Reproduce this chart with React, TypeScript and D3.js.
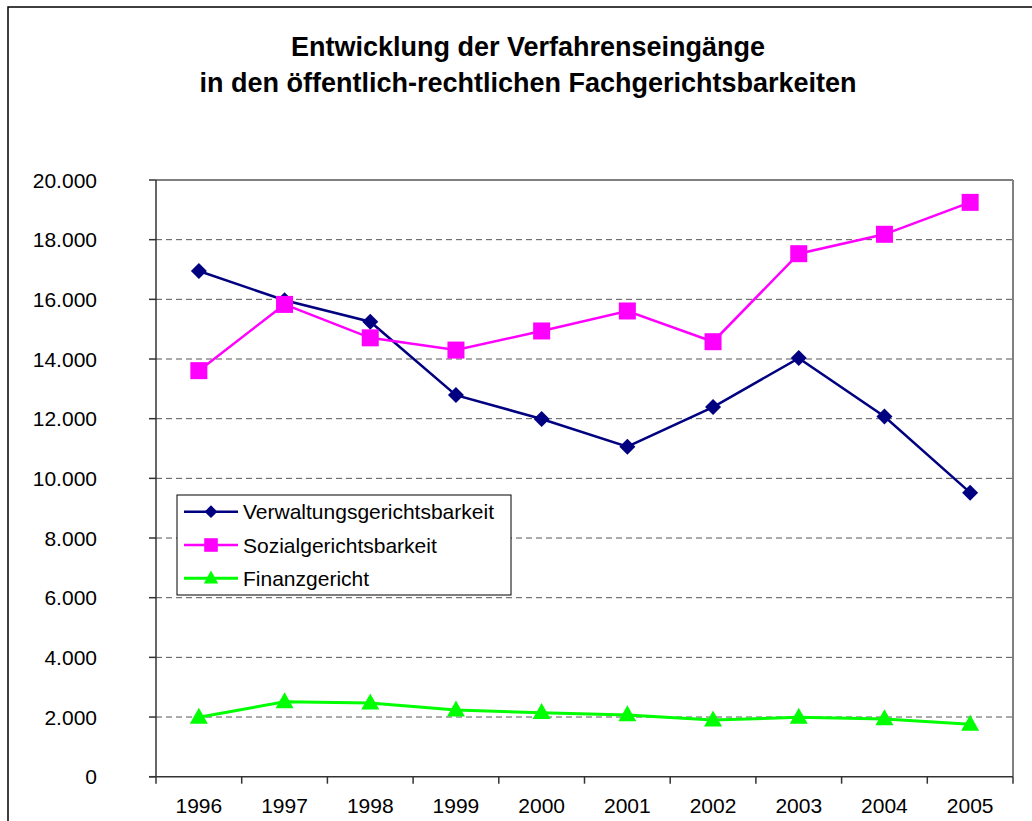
import React from 'react';
import * as d3 from 'd3';

const years = ['1996', '1997', '1998', '1999', '2000', '2001', '2002', '2003', '2004', '2005'];
const verwaltung = [16950, 15970, 15250, 12790, 11990, 11060, 12390, 14030, 12070, 9520];
const sozial = [13610, 15830, 14710, 14300, 14940, 15610, 14580, 17530, 18180, 19250];
const finanz = [1990, 2510, 2470, 2235, 2145, 2070, 1900, 1990, 1935, 1755];
const yTicks = [0, 2000, 4000, 6000, 8000, 10000, 12000, 14000, 16000, 18000, 20000];

const titleLines = ['Entwicklung der Verfahrenseingänge', 'in den öffentlich-rechtlichen Fachgerichtsbarkeiten'];

type Shape = 'diamond' | 'square' | 'triangle';
const series: { name: string; values: number[]; color: string; shape: Shape }[] = [
  { name: 'Verwaltungsgerichtsbarkeit', values: verwaltung, color: '#000080', shape: 'diamond' },
  { name: 'Sozialgerichtsbarkeit', values: sozial, color: '#FF00FF', shape: 'square' },
  { name: 'Finanzgericht', values: finanz, color: '#00FF00', shape: 'triangle' },
];

const W = 1032;
const H = 821;
const M = { left: 156, right: 1013, top: 180, bottom: 776.7 };
const FONT = '"Liberation Sans", Arial, Helvetica, sans-serif';

// german thousands separator
const fmt = (v: number) => (v === 0 ? '0' : d3.format(',')(v).replace(/,/g, '.'));

function Marker({ shape, x, y, color, scale = 1 }: { shape: Shape; x: number; y: number; color: string; scale?: number }) {
  if (shape === 'diamond') {
    const r = 8 * scale;
    return <path d={`M${x},${y - r}L${x + r},${y}L${x},${y + r}L${x - r},${y}Z`} fill={color} />;
  }
  if (shape === 'square') {
    const s = 17 * scale;
    return <rect x={x - s / 2} y={y - s / 2} width={s} height={s} fill={color} />;
  }
  const w = 18 * scale;
  const h = 16 * scale;
  return <path d={`M${x},${y - h * 0.6}L${x + w / 2},${y + h * 0.4}L${x - w / 2},${y + h * 0.4}Z`} fill={color} />;
}

export default function App() {
  const x = d3.scaleBand<string>().domain(years).range([M.left, M.right]);
  const y = d3.scaleLinear().domain([0, 20000]).range([M.bottom, M.top]);
  const cx = (yr: string) => (x(yr) ?? 0) + x.bandwidth() / 2;

  const line = d3.line<number>()
    .x((_, i) => cx(years[i]))
    .y(d => y(d));

  const legend = { x: 177, y: 495, w: 334, h: 100, row: 33.3 };
  const boundaries = [...years.map(yr => x(yr) ?? 0), M.right];

  return (
    <svg width={W} height={H} style={{ position: 'absolute', left: 0, top: 0, background: '#fff' }} fontFamily={FONT}>
      <rect x={8} y={7} width={W + 10} height={H + 10} fill="#fff" stroke="#000" strokeWidth={1.5} />

      {titleLines.map((t, i) => (
        <text key={i} x={528} y={56 + i * 36} textAnchor="middle" fontSize={27} fontWeight="bold" fill="#000">{t}</text>
      ))}

      {/* gridlines */}
      {yTicks.filter(t => t > 0 && t < 20000).map(t => (
        <line key={t} x1={M.left} x2={M.right} y1={y(t)} y2={y(t)} stroke="#555" strokeWidth={1} strokeDasharray="6,4" />
      ))}

      {/* frame */}
      <line x1={M.left} x2={M.right} y1={M.top} y2={M.top} stroke="#808080" strokeWidth={2} />
      <line x1={M.right} x2={M.right} y1={M.top} y2={M.bottom} stroke="#808080" strokeWidth={2} />
      <line x1={M.left} x2={M.left} y1={M.top} y2={M.bottom} stroke="#333" strokeWidth={1.5} />
      <line x1={M.left - 7} x2={M.right} y1={M.bottom} y2={M.bottom} stroke="#333" strokeWidth={1.5} />

      {yTicks.map(t => (
        <g key={t}>
          <line x1={M.left - 7} x2={M.left} y1={y(t)} y2={y(t)} stroke="#333" strokeWidth={1.5} />
          <text x={97} y={y(t)} dy="0.36em" textAnchor="end" fontSize={21} fill="#000">{fmt(t)}</text>
        </g>
      ))}

      {boundaries.map((b, i) => (
        <line key={i} x1={b} x2={b} y1={M.bottom} y2={M.bottom + 7} stroke="#333" strokeWidth={1.5} />
      ))}
      {years.map(yr => (
        <text key={yr} x={cx(yr)} y={813} textAnchor="middle" fontSize={21} fill="#000">{yr}</text>
      ))}

      {series.map(s => (
        <g key={s.name}>
          <path d={line(s.values) ?? ''} fill="none" stroke={s.color} strokeWidth={s.shape === 'triangle' ? 3 : 2.5} />
          {s.values.map((v, i) => (
            <Marker key={i} shape={s.shape} x={cx(years[i])} y={y(v)} color={s.color} />
          ))}
        </g>
      ))}

      {/* legend */}
      <rect x={legend.x} y={legend.y} width={legend.w} height={legend.h} fill="#fff" stroke="#000" strokeWidth={1} />
      {series.map((s, i) => {
        const ly = legend.y + 16.7 + i * legend.row;
        return (
          <g key={s.name}>
            <line x1={184} x2={238} y1={ly} y2={ly} stroke={s.color} strokeWidth={s.shape === 'triangle' ? 3 : 2.5} />
            <Marker shape={s.shape} x={211} y={ly} color={s.color} scale={0.8} />
            <text x={243} y={ly} dy="0.36em" fontSize={21} fill="#000">{s.name}</text>
          </g>
        );
      })}
    </svg>
  );
}
